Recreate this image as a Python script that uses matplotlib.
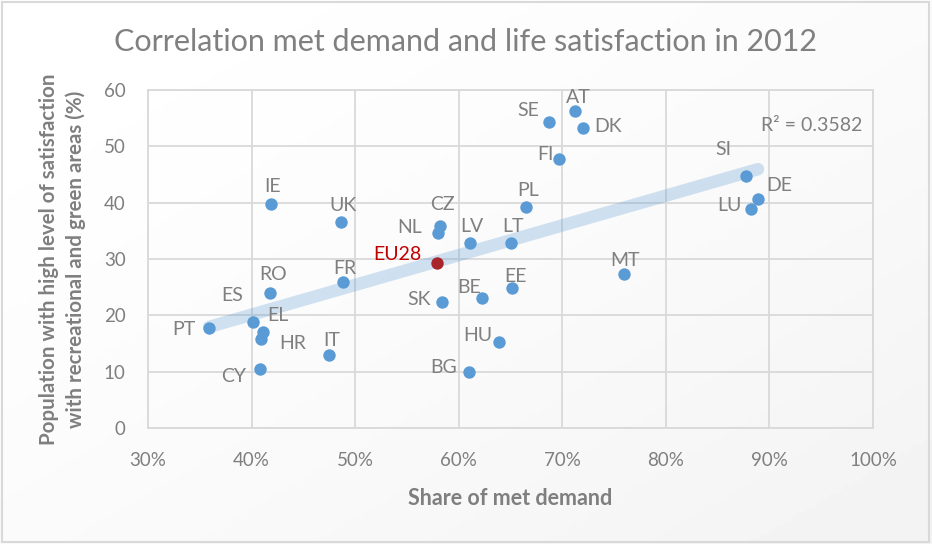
import numpy as np
import matplotlib.pyplot as plt
from matplotlib.patches import Rectangle
from matplotlib.ticker import FuncFormatter, MultipleLocator

plt.rcParams['font.family'] = ['Lato', 'DejaVu Sans']

# data (share of met demand %, satisfaction %)
countries = ['PT', 'ES', 'EL', 'HR', 'CY', 'IT', 'RO', 'FR', 'UK', 'IE',
             'CZ', 'NL', 'LV', 'LT', 'PL', 'SK', 'BE', 'EE', 'HU', 'BG',
             'MT', 'SE', 'AT', 'DK', 'FI', 'SI', 'DE', 'LU']
met_demand = [35.9, 40.1, 41.1, 40.95, 40.8, 47.5, 41.8, 48.8, 48.6, 41.9,
              58.2, 58.0, 61.1, 65.0, 66.5, 58.4, 62.2, 65.1, 63.9, 61.0,
              76.0, 68.7, 71.2, 72.0, 69.7, 87.7, 88.9, 88.2]
satisfaction = [17.8, 18.9, 17.1, 15.8, 10.5, 13.0, 23.9, 25.9, 36.6, 39.8,
                35.9, 34.6, 32.9, 32.9, 39.2, 22.4, 23.1, 24.9, 15.2, 9.9,
                27.4, 54.3, 56.2, 53.2, 47.7, 44.8, 40.6, 38.8]
eu_demand = 57.9
eu_satisfaction = 29.3
r2_text = 'R² = 0.3582'

# label offsets in pixels (dx, dy downwards) from the dot
label_off = {
    'PT': (-25, 0), 'ES': (-20, -28), 'EL': (15, -18), 'HR': (31, 3),
    'CY': (-26, 6), 'IT': (2, -16), 'RO': (3, -20), 'FR': (2, -15),
    'UK': (2, -18), 'IE': (1, -19), 'CZ': (2, -23), 'NL': (-28, -7),
    'LV': (2, -18), 'LT': (2, -18), 'PL': (2, -18), 'SK': (-23, -4),
    'BE': (-12, -12), 'EE': (4, -13), 'HU': (-21, -8), 'BG': (-25, -6),
    'MT': (1, -15), 'SE': (-21, -13), 'AT': (4, -15), 'DK': (25, -3),
    'FI': (-14, -6), 'SI': (-22, -28), 'DE': (21, -15), 'LU': (-21, -5),
}

blue = '#5B9BD5'
grey_txt = '#7F7F7F'
grid_c = '#D9D9D9'

fig = plt.figure(figsize=(9.32, 5.44), dpi=100)

# soft background like the Excel chart area
bg = fig.add_axes([0, 0, 1, 1], zorder=-5)
gx, gy = np.meshgrid(np.linspace(0, 1, 200), np.linspace(0, 1, 120))
shade = 1.0 - 0.05 * np.clip((gx + gy) / 2.0, 0, 1) ** 1.5
bg.imshow(shade, cmap='gray', vmin=0, vmax=1, aspect='auto', origin='upper',
          extent=[0, 1, 0, 1])
bg.set_axis_off()
fig.patches.append(Rectangle((0.002, 0.003), 0.995, 0.994, transform=fig.transFigure,
                             fill=False, edgecolor=grid_c, lw=1.5))

ax = fig.add_axes([0.1588, 0.2132, 0.7779, 0.6214])
ax.set_facecolor('none')

x = np.array(met_demand)
y = np.array(satisfaction)

# linear trendline
k, b = np.polyfit(x, y, 1)
tx = np.array([x.min(), x.max()])
ax.plot(tx, k * tx + b, color=blue, alpha=0.28, lw=9, solid_capstyle='round', zorder=2)

ax.scatter(x, y, s=80, color=blue, zorder=3, linewidths=0)
ax.scatter([eu_demand], [eu_satisfaction], s=80, color='#A8262B', zorder=3, linewidths=0)

for c, xv, yv in zip(countries, met_demand, satisfaction):
    dx, dy = label_off[c]
    ax.annotate(c, (xv, yv), xytext=(dx * 0.72, -dy * 0.72), textcoords='offset points',
                ha='center', va='center_baseline', fontsize=14, color=grey_txt, zorder=4)
ax.annotate('EU28', (eu_demand, eu_satisfaction), xytext=(-40 * 0.72, 10 * 0.72),
            textcoords='offset points', ha='center', va='center_baseline',
            fontsize=14, color='#C00000', zorder=4)

ax.text(0.986, 0.9, r2_text, transform=ax.transAxes, ha='right', va='center_baseline',
        fontsize=14, color=grey_txt)

ax.set_xlim(30, 100)
ax.set_ylim(0, 60)
ax.xaxis.set_major_locator(MultipleLocator(10))
ax.yaxis.set_major_locator(MultipleLocator(10))
ax.xaxis.set_major_formatter(FuncFormatter(lambda v, p: '%d%%' % v))
ax.grid(True, color=grid_c, lw=1.3, zorder=0)
ax.set_axisbelow(True)
for s in ax.spines.values():
    s.set_color(grid_c)
    s.set_linewidth(1.3)
ax.tick_params(length=0, labelsize=13.5, labelcolor=grey_txt)
ax.tick_params(axis='x', pad=17)
ax.tick_params(axis='y', pad=16)

ax.set_xlabel('Share of met demand', fontsize=15.5, fontweight='bold', color='#7F7F7F', labelpad=14)
ax.set_ylabel('Population with high level of satisfaction\nwith recreational and green areas (%)',
              fontsize=14.8, fontweight='bold', color='#7F7F7F', labelpad=13, linespacing=1.35)

fig.text(0.5, 0.923, 'Correlation met demand and life satisfaction in 2012',
         ha='center', va='center', fontsize=22, color='#808080')

fig.savefig('out.png', dpi=100)
